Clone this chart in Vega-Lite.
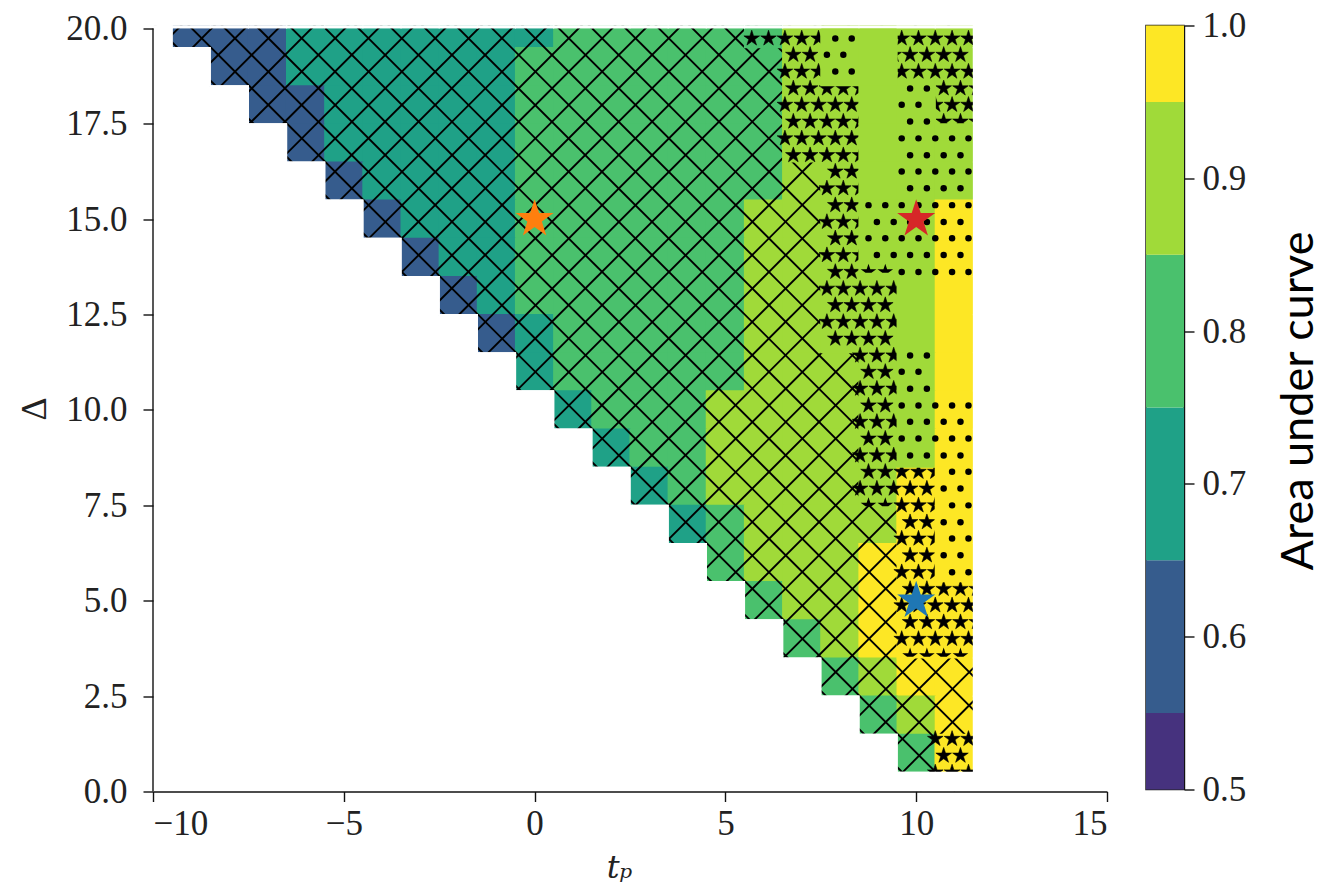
{"$schema":"https://vega.github.io/schema/vega-lite/v6.json","background":"white","padding":{"left":16,"top":7.5,"right":0,"bottom":14},"spacing":37,
"config":{"axis":{"grid":false,"domainColor":"#111","tickColor":"#111","domainWidth":1.4,"tickWidth":1.4,"tickSize":10,"labelFont":"Liberation Serif","labelFontSize":35,"labelColor":"#222","labelPadding":10},"view":{"stroke":null}},
"datasets":{
"cells":[
{"x":-9,"y":20,"a":0.6,"p":"x"},{"x":-8,"y":20,"a":0.6,"p":"x"},{"x":-7,"y":20,"a":0.6,"p":"x"},{"x":-6,"y":20,"a":0.7,"p":"x"},{"x":-5,"y":20,"a":0.7,"p":"x"},{"x":-4,"y":20,"a":0.7,"p":"x"},{"x":-3,"y":20,"a":0.7,"p":"x"},{"x":-2,"y":20,"a":0.7,"p":"x"},{"x":-1,"y":20,"a":0.7,"p":"x"},{"x":0,"y":20,"a":0.7,"p":"x"},{"x":1,"y":20,"a":0.8,"p":"x"},{"x":2,"y":20,"a":0.8,"p":"x"},{"x":3,"y":20,"a":0.8,"p":"x"},{"x":4,"y":20,"a":0.8,"p":"x"},{"x":5,"y":20,"a":0.8,"p":"x"},{"x":6,"y":20,"a":0.8,"p":"s"},{"x":7,"y":20,"a":0.9,"p":"s"},{"x":8,"y":20,"a":0.9,"p":"o"},{"x":9,"y":20,"a":0.9,"p":"n"},{"x":10,"y":20,"a":0.9,"p":"s"},{"x":11,"y":20,"a":0.9,"p":"s"},
{"x":-8,"y":19,"a":0.6,"p":"x"},{"x":-7,"y":19,"a":0.6,"p":"x"},{"x":-6,"y":19,"a":0.7,"p":"x"},{"x":-5,"y":19,"a":0.7,"p":"x"},{"x":-4,"y":19,"a":0.7,"p":"x"},{"x":-3,"y":19,"a":0.7,"p":"x"},{"x":-2,"y":19,"a":0.7,"p":"x"},{"x":-1,"y":19,"a":0.7,"p":"x"},{"x":0,"y":19,"a":0.8,"p":"x"},{"x":1,"y":19,"a":0.8,"p":"x"},{"x":2,"y":19,"a":0.8,"p":"x"},{"x":3,"y":19,"a":0.8,"p":"x"},{"x":4,"y":19,"a":0.8,"p":"x"},{"x":5,"y":19,"a":0.8,"p":"x"},{"x":6,"y":19,"a":0.8,"p":"x"},{"x":7,"y":19,"a":0.9,"p":"s"},{"x":8,"y":19,"a":0.9,"p":"o"},{"x":9,"y":19,"a":0.9,"p":"n"},{"x":10,"y":19,"a":0.9,"p":"s"},{"x":11,"y":19,"a":0.9,"p":"s"},
{"x":-7,"y":18,"a":0.6,"p":"x"},{"x":-6,"y":18,"a":0.6,"p":"x"},{"x":-5,"y":18,"a":0.7,"p":"x"},{"x":-4,"y":18,"a":0.7,"p":"x"},{"x":-3,"y":18,"a":0.7,"p":"x"},{"x":-2,"y":18,"a":0.7,"p":"x"},{"x":-1,"y":18,"a":0.7,"p":"x"},{"x":0,"y":18,"a":0.8,"p":"x"},{"x":1,"y":18,"a":0.8,"p":"x"},{"x":2,"y":18,"a":0.8,"p":"x"},{"x":3,"y":18,"a":0.8,"p":"x"},{"x":4,"y":18,"a":0.8,"p":"x"},{"x":5,"y":18,"a":0.8,"p":"x"},{"x":6,"y":18,"a":0.8,"p":"x"},{"x":7,"y":18,"a":0.9,"p":"s"},{"x":8,"y":18,"a":0.9,"p":"s"},{"x":9,"y":18,"a":0.9,"p":"n"},{"x":10,"y":18,"a":0.9,"p":"o"},{"x":11,"y":18,"a":0.9,"p":"s"},
{"x":-6,"y":17,"a":0.6,"p":"x"},{"x":-5,"y":17,"a":0.7,"p":"x"},{"x":-4,"y":17,"a":0.7,"p":"x"},{"x":-3,"y":17,"a":0.7,"p":"x"},{"x":-2,"y":17,"a":0.7,"p":"x"},{"x":-1,"y":17,"a":0.7,"p":"x"},{"x":0,"y":17,"a":0.8,"p":"x"},{"x":1,"y":17,"a":0.8,"p":"x"},{"x":2,"y":17,"a":0.8,"p":"x"},{"x":3,"y":17,"a":0.8,"p":"x"},{"x":4,"y":17,"a":0.8,"p":"x"},{"x":5,"y":17,"a":0.8,"p":"x"},{"x":6,"y":17,"a":0.8,"p":"x"},{"x":7,"y":17,"a":0.9,"p":"s"},{"x":8,"y":17,"a":0.9,"p":"s"},{"x":9,"y":17,"a":0.9,"p":"n"},{"x":10,"y":17,"a":0.9,"p":"o"},{"x":11,"y":17,"a":0.9,"p":"o"},
{"x":-5,"y":16,"a":0.6,"p":"x"},{"x":-4,"y":16,"a":0.7,"p":"x"},{"x":-3,"y":16,"a":0.7,"p":"x"},{"x":-2,"y":16,"a":0.7,"p":"x"},{"x":-1,"y":16,"a":0.7,"p":"x"},{"x":0,"y":16,"a":0.8,"p":"x"},{"x":1,"y":16,"a":0.8,"p":"x"},{"x":2,"y":16,"a":0.8,"p":"x"},{"x":3,"y":16,"a":0.8,"p":"x"},{"x":4,"y":16,"a":0.8,"p":"x"},{"x":5,"y":16,"a":0.8,"p":"x"},{"x":6,"y":16,"a":0.8,"p":"x"},{"x":7,"y":16,"a":0.9,"p":"x"},{"x":8,"y":16,"a":0.9,"p":"s"},{"x":9,"y":16,"a":0.9,"p":"n"},{"x":10,"y":16,"a":0.9,"p":"o"},{"x":11,"y":16,"a":0.9,"p":"o"},
{"x":-4,"y":15,"a":0.6,"p":"x"},{"x":-3,"y":15,"a":0.7,"p":"x"},{"x":-2,"y":15,"a":0.7,"p":"x"},{"x":-1,"y":15,"a":0.7,"p":"x"},{"x":0,"y":15,"a":0.8,"p":"x"},{"x":1,"y":15,"a":0.8,"p":"x"},{"x":2,"y":15,"a":0.8,"p":"x"},{"x":3,"y":15,"a":0.8,"p":"x"},{"x":4,"y":15,"a":0.8,"p":"x"},{"x":5,"y":15,"a":0.8,"p":"x"},{"x":6,"y":15,"a":0.9,"p":"x"},{"x":7,"y":15,"a":0.9,"p":"x"},{"x":8,"y":15,"a":0.9,"p":"s"},{"x":9,"y":15,"a":0.9,"p":"o"},{"x":10,"y":15,"a":0.9,"p":"o"},{"x":11,"y":15,"a":1.0,"p":"o"},
{"x":-3,"y":14,"a":0.6,"p":"x"},{"x":-2,"y":14,"a":0.7,"p":"x"},{"x":-1,"y":14,"a":0.7,"p":"x"},{"x":0,"y":14,"a":0.8,"p":"x"},{"x":1,"y":14,"a":0.8,"p":"x"},{"x":2,"y":14,"a":0.8,"p":"x"},{"x":3,"y":14,"a":0.8,"p":"x"},{"x":4,"y":14,"a":0.8,"p":"x"},{"x":5,"y":14,"a":0.8,"p":"x"},{"x":6,"y":14,"a":0.9,"p":"x"},{"x":7,"y":14,"a":0.9,"p":"x"},{"x":8,"y":14,"a":0.9,"p":"s"},{"x":9,"y":14,"a":0.9,"p":"o"},{"x":10,"y":14,"a":0.9,"p":"o"},{"x":11,"y":14,"a":1.0,"p":"o"},
{"x":-2,"y":13,"a":0.6,"p":"x"},{"x":-1,"y":13,"a":0.7,"p":"x"},{"x":0,"y":13,"a":0.8,"p":"x"},{"x":1,"y":13,"a":0.8,"p":"x"},{"x":2,"y":13,"a":0.8,"p":"x"},{"x":3,"y":13,"a":0.8,"p":"x"},{"x":4,"y":13,"a":0.8,"p":"x"},{"x":5,"y":13,"a":0.8,"p":"x"},{"x":6,"y":13,"a":0.9,"p":"x"},{"x":7,"y":13,"a":0.9,"p":"x"},{"x":8,"y":13,"a":0.9,"p":"s"},{"x":9,"y":13,"a":0.9,"p":"s"},{"x":10,"y":13,"a":0.9,"p":"n"},{"x":11,"y":13,"a":1.0,"p":"n"},
{"x":-1,"y":12,"a":0.6,"p":"x"},{"x":0,"y":12,"a":0.7,"p":"x"},{"x":1,"y":12,"a":0.8,"p":"x"},{"x":2,"y":12,"a":0.8,"p":"x"},{"x":3,"y":12,"a":0.8,"p":"x"},{"x":4,"y":12,"a":0.8,"p":"x"},{"x":5,"y":12,"a":0.8,"p":"x"},{"x":6,"y":12,"a":0.9,"p":"x"},{"x":7,"y":12,"a":0.9,"p":"x"},{"x":8,"y":12,"a":0.9,"p":"s"},{"x":9,"y":12,"a":0.9,"p":"s"},{"x":10,"y":12,"a":0.9,"p":"n"},{"x":11,"y":12,"a":1.0,"p":"n"},
{"x":0,"y":11,"a":0.7,"p":"x"},{"x":1,"y":11,"a":0.8,"p":"x"},{"x":2,"y":11,"a":0.8,"p":"x"},{"x":3,"y":11,"a":0.8,"p":"x"},{"x":4,"y":11,"a":0.8,"p":"x"},{"x":5,"y":11,"a":0.8,"p":"x"},{"x":6,"y":11,"a":0.9,"p":"x"},{"x":7,"y":11,"a":0.9,"p":"x"},{"x":8,"y":11,"a":0.9,"p":"x"},{"x":9,"y":11,"a":0.9,"p":"s"},{"x":10,"y":11,"a":0.9,"p":"o"},{"x":11,"y":11,"a":1.0,"p":"n"},
{"x":1,"y":10,"a":0.7,"p":"x"},{"x":2,"y":10,"a":0.8,"p":"x"},{"x":3,"y":10,"a":0.8,"p":"x"},{"x":4,"y":10,"a":0.8,"p":"x"},{"x":5,"y":10,"a":0.9,"p":"x"},{"x":6,"y":10,"a":0.9,"p":"x"},{"x":7,"y":10,"a":0.9,"p":"x"},{"x":8,"y":10,"a":0.9,"p":"x"},{"x":9,"y":10,"a":0.9,"p":"s"},{"x":10,"y":10,"a":0.9,"p":"o"},{"x":11,"y":10,"a":1.0,"p":"o"},
{"x":2,"y":9,"a":0.7,"p":"x"},{"x":3,"y":9,"a":0.8,"p":"x"},{"x":4,"y":9,"a":0.8,"p":"x"},{"x":5,"y":9,"a":0.9,"p":"x"},{"x":6,"y":9,"a":0.9,"p":"x"},{"x":7,"y":9,"a":0.9,"p":"x"},{"x":8,"y":9,"a":0.9,"p":"x"},{"x":9,"y":9,"a":0.9,"p":"s"},{"x":10,"y":9,"a":0.9,"p":"o"},{"x":11,"y":9,"a":1.0,"p":"o"},
{"x":3,"y":8,"a":0.7,"p":"x"},{"x":4,"y":8,"a":0.8,"p":"x"},{"x":5,"y":8,"a":0.9,"p":"x"},{"x":6,"y":8,"a":0.9,"p":"x"},{"x":7,"y":8,"a":0.9,"p":"x"},{"x":8,"y":8,"a":0.9,"p":"x"},{"x":9,"y":8,"a":0.9,"p":"s"},{"x":10,"y":8,"a":1.0,"p":"s"},{"x":11,"y":8,"a":1.0,"p":"o"},
{"x":4,"y":7,"a":0.7,"p":"x"},{"x":5,"y":7,"a":0.8,"p":"x"},{"x":6,"y":7,"a":0.9,"p":"x"},{"x":7,"y":7,"a":0.9,"p":"x"},{"x":8,"y":7,"a":0.9,"p":"x"},{"x":9,"y":7,"a":0.9,"p":"x"},{"x":10,"y":7,"a":1.0,"p":"s"},{"x":11,"y":7,"a":1.0,"p":"o"},
{"x":5,"y":6,"a":0.8,"p":"x"},{"x":6,"y":6,"a":0.9,"p":"x"},{"x":7,"y":6,"a":0.9,"p":"x"},{"x":8,"y":6,"a":0.9,"p":"x"},{"x":9,"y":6,"a":1.0,"p":"x"},{"x":10,"y":6,"a":1.0,"p":"s"},{"x":11,"y":6,"a":1.0,"p":"o"},
{"x":6,"y":5,"a":0.8,"p":"x"},{"x":7,"y":5,"a":0.9,"p":"x"},{"x":8,"y":5,"a":0.9,"p":"x"},{"x":9,"y":5,"a":1.0,"p":"x"},{"x":10,"y":5,"a":1.0,"p":"s"},{"x":11,"y":5,"a":1.0,"p":"s"},
{"x":7,"y":4,"a":0.8,"p":"x"},{"x":8,"y":4,"a":0.9,"p":"x"},{"x":9,"y":4,"a":1.0,"p":"x"},{"x":10,"y":4,"a":1.0,"p":"s"},{"x":11,"y":4,"a":1.0,"p":"s"},
{"x":8,"y":3,"a":0.8,"p":"x"},{"x":9,"y":3,"a":0.9,"p":"x"},{"x":10,"y":3,"a":1.0,"p":"x"},{"x":11,"y":3,"a":1.0,"p":"x"},
{"x":9,"y":2,"a":0.8,"p":"x"},{"x":10,"y":2,"a":0.9,"p":"x"},{"x":11,"y":2,"a":1.0,"p":"x"},
{"x":10,"y":1,"a":0.8,"p":"x"},{"x":11,"y":1,"a":1.0,"p":"s"}],
"empty":[{"x":-10,"y":20},{"x":-9,"y":19},{"x":-8,"y":18},{"x":-7,"y":17},{"x":-6,"y":16},{"x":-5,"y":15},{"x":-4,"y":14},{"x":-3,"y":13},{"x":-2,"y":12},{"x":-1,"y":11},{"x":0,"y":10},{"x":1,"y":9},{"x":2,"y":8},{"x":3,"y":7},{"x":4,"y":6},{"x":5,"y":5},{"x":6,"y":4},{"x":7,"y":3},{"x":8,"y":2},{"x":9,"y":1},{"x":10,"y":0},{"x":11,"y":0},{"x":12,"y":0},{"x":9,"y":0},
{"x":12,"y":1},{"x":12,"y":2},{"x":12,"y":3},{"x":12,"y":4},{"x":12,"y":5},{"x":12,"y":6},{"x":12,"y":7},{"x":12,"y":8},{"x":12,"y":9},{"x":12,"y":10},{"x":12,"y":11},{"x":12,"y":12},{"x":12,"y":13},{"x":12,"y":14},{"x":12,"y":15},{"x":12,"y":16},{"x":12,"y":17},{"x":12,"y":18},{"x":12,"y":19},{"x":12,"y":20},
{"x":-10,"y":20.52},{"x":-9,"y":20.52},{"x":-8,"y":20.52},{"x":-7,"y":20.52},{"x":-6,"y":20.52},{"x":-5,"y":20.52},{"x":-4,"y":20.52},{"x":-3,"y":20.52},{"x":-2,"y":20.52},{"x":-1,"y":20.52},{"x":0,"y":20.52},{"x":1,"y":20.52},{"x":2,"y":20.52},{"x":3,"y":20.52},{"x":4,"y":20.52},{"x":5,"y":20.52},{"x":6,"y":20.52},{"x":7,"y":20.52},{"x":8,"y":20.52},{"x":9,"y":20.52},{"x":10,"y":20.52},{"x":11,"y":20.52},{"x":12,"y":20.52}],
"hatch":[
{"x":-9.67,"y":19.67,"x2":-9.14,"y2":20.2},{"x":-9.23,"y":19.23,"x2":-8.27,"y2":20.2},{"x":-8.8,"y":18.8,"x2":-7.39,"y2":20.2},{"x":-8.36,"y":18.36,"x2":-6.52,"y2":20.2},{"x":-7.92,"y":17.92,"x2":-5.65,"y2":20.2},{"x":-7.49,"y":17.49,"x2":-4.77,"y2":20.2},{"x":-7.05,"y":17.05,"x2":-3.9,"y2":20.2},{"x":-6.61,"y":16.61,"x2":-3.02,"y2":20.2},{"x":-6.17,"y":16.17,"x2":-2.15,"y2":20.2},{"x":-5.74,"y":15.74,"x2":-1.27,"y2":20.2},{"x":-5.3,"y":15.3,"x2":-0.4,"y2":20.2},{"x":-4.86,"y":14.86,"x2":0.48,"y2":20.2},{"x":-4.42,"y":14.42,"x2":1.35,"y2":20.2},{"x":-3.99,"y":13.99,"x2":2.23,"y2":20.2},{"x":-3.55,"y":13.55,"x2":3.1,"y2":20.2},{"x":-3.11,"y":13.11,"x2":3.97,"y2":20.2},{"x":-2.68,"y":12.68,"x2":4.85,"y2":20.2},{"x":-2.24,"y":12.24,"x2":5.72,"y2":20.2},{"x":-1.8,"y":11.8,"x2":6.6,"y2":20.2},{"x":-1.36,"y":11.36,"x2":7.47,"y2":20.2},{"x":-0.93,"y":10.93,"x2":8.35,"y2":20.2},{"x":-0.49,"y":10.49,"x2":9.22,"y2":20.2},{"x":-0.05,"y":10.05,"x2":10.1,"y2":20.2},{"x":0.39,"y":9.61,"x2":10.97,"y2":20.2},{"x":0.82,"y":9.18,"x2":11.6,"y2":19.96},{"x":1.26,"y":8.74,"x2":11.6,"y2":19.08},{"x":1.7,"y":8.3,"x2":11.6,"y2":18.21},{"x":2.13,"y":7.87,"x2":11.6,"y2":17.33},{"x":2.57,"y":7.43,"x2":11.6,"y2":16.46},{"x":3.01,"y":6.99,"x2":11.6,"y2":15.58},{"x":3.45,"y":6.55,"x2":11.6,"y2":14.71},{"x":3.88,"y":6.12,"x2":11.6,"y2":13.83},{"x":4.32,"y":5.68,"x2":11.6,"y2":12.96},{"x":4.76,"y":5.24,"x2":11.6,"y2":12.08},{"x":5.2,"y":4.81,"x2":11.6,"y2":11.21},{"x":5.63,"y":4.37,"x2":11.6,"y2":10.34},{"x":6.07,"y":3.93,"x2":11.6,"y2":9.46},{"x":6.51,"y":3.49,"x2":11.6,"y2":8.59},{"x":6.94,"y":3.06,"x2":11.6,"y2":7.71},{"x":7.38,"y":2.62,"x2":11.6,"y2":6.84},{"x":7.82,"y":2.18,"x2":11.6,"y2":5.96},{"x":8.26,"y":1.74,"x2":11.6,"y2":5.09},{"x":8.69,"y":1.31,"x2":11.6,"y2":4.21},{"x":9.13,"y":0.87,"x2":11.6,"y2":3.34},{"x":9.57,"y":0.43,"x2":11.6,"y2":2.47},{"x":10,"y":0,"x2":11.6,"y2":1.59},
{"x":-10.06,"y":20.2,"x2":10.14,"y2":0},{"x":-9.18,"y":20.2,"x2":11.02,"y2":0},{"x":-8.31,"y":20.2,"x2":11.6,"y2":0.29},{"x":-7.43,"y":20.2,"x2":11.6,"y2":1.17},{"x":-6.56,"y":20.2,"x2":11.6,"y2":2.04},{"x":-5.68,"y":20.2,"x2":11.6,"y2":2.92},{"x":-4.81,"y":20.2,"x2":11.6,"y2":3.79},{"x":-3.94,"y":20.2,"x2":11.6,"y2":4.67},{"x":-3.06,"y":20.2,"x2":11.6,"y2":5.54},{"x":-2.19,"y":20.2,"x2":11.6,"y2":6.41},{"x":-1.31,"y":20.2,"x2":11.6,"y2":7.29},{"x":-0.44,"y":20.2,"x2":11.6,"y2":8.16},{"x":0.44,"y":20.2,"x2":11.6,"y2":9.04},{"x":1.31,"y":20.2,"x2":11.6,"y2":9.91},{"x":2.19,"y":20.2,"x2":11.6,"y2":10.79},{"x":3.06,"y":20.2,"x2":11.6,"y2":11.66},{"x":3.94,"y":20.2,"x2":11.6,"y2":12.54},{"x":4.81,"y":20.2,"x2":11.6,"y2":13.41},{"x":5.69,"y":20.2,"x2":11.6,"y2":14.29},{"x":6.56,"y":20.2,"x2":11.6,"y2":15.16},{"x":7.43,"y":20.2,"x2":11.6,"y2":16.03}],
"stars":[
{"x":5.69,"y":19.74},{"x":6.13,"y":19.74},{"x":6.56,"y":19.74},{"x":7,"y":19.74},{"x":7.44,"y":19.74},{"x":9.62,"y":19.74},{"x":10.06,"y":19.74},{"x":10.5,"y":19.74},{"x":10.94,"y":19.74},{"x":11.37,"y":19.74},
{"x":6.78,"y":19.31},{"x":7.22,"y":19.31},{"x":9.41,"y":19.31},{"x":9.84,"y":19.31},{"x":10.28,"y":19.31},{"x":10.72,"y":19.31},{"x":11.16,"y":19.31},
{"x":6.56,"y":18.87},{"x":7,"y":18.87},{"x":7.44,"y":18.87},{"x":9.62,"y":18.87},{"x":10.06,"y":18.87},{"x":10.5,"y":18.87},{"x":10.94,"y":18.87},{"x":11.37,"y":18.87},
{"x":6.78,"y":18.43},{"x":7.22,"y":18.43},{"x":7.66,"y":18.43},{"x":8.09,"y":18.43},{"x":8.53,"y":18.43},{"x":10.72,"y":18.43},{"x":11.16,"y":18.43},{"x":11.59,"y":18.43},
{"x":6.56,"y":18},{"x":7,"y":18},{"x":7.44,"y":18},{"x":7.88,"y":18},{"x":8.31,"y":18},{"x":10.5,"y":18},{"x":10.94,"y":18},{"x":11.37,"y":18},
{"x":6.78,"y":17.56},{"x":7.22,"y":17.56},{"x":7.66,"y":17.56},{"x":8.09,"y":17.56},{"x":8.53,"y":17.56},{"x":10.72,"y":17.56},{"x":11.16,"y":17.56},{"x":11.59,"y":17.56},
{"x":6.56,"y":17.12},{"x":7,"y":17.12},{"x":7.44,"y":17.12},{"x":7.88,"y":17.12},{"x":8.31,"y":17.12},
{"x":6.78,"y":16.68},{"x":7.22,"y":16.68},{"x":7.66,"y":16.68},{"x":8.09,"y":16.68},{"x":8.53,"y":16.68},
{"x":7.88,"y":16.25},{"x":8.31,"y":16.25},{"x":7.66,"y":15.81},{"x":8.09,"y":15.81},{"x":8.53,"y":15.81},
{"x":7.88,"y":15.37},{"x":8.31,"y":15.37},{"x":7.66,"y":14.93},{"x":8.09,"y":14.93},{"x":8.53,"y":14.93},
{"x":7.88,"y":14.5},{"x":8.31,"y":14.5},{"x":7.66,"y":14.06},{"x":8.09,"y":14.06},{"x":8.53,"y":14.06},
{"x":7.88,"y":13.62},{"x":8.31,"y":13.62},
{"x":7.66,"y":13.18},{"x":8.09,"y":13.18},{"x":8.53,"y":13.18},{"x":8.97,"y":13.18},{"x":9.41,"y":13.18},
{"x":7.88,"y":12.75},{"x":8.31,"y":12.75},{"x":8.75,"y":12.75},{"x":9.19,"y":12.75},
{"x":7.66,"y":12.31},{"x":8.09,"y":12.31},{"x":8.53,"y":12.31},{"x":8.97,"y":12.31},{"x":9.41,"y":12.31},
{"x":7.88,"y":11.87},{"x":8.31,"y":11.87},{"x":8.75,"y":11.87},{"x":9.19,"y":11.87},
{"x":8.53,"y":11.43},{"x":8.97,"y":11.43},{"x":9.41,"y":11.43},{"x":8.75,"y":11},{"x":9.19,"y":11},
{"x":8.53,"y":10.56},{"x":8.97,"y":10.56},{"x":9.41,"y":10.56},{"x":8.75,"y":10.12},{"x":9.19,"y":10.12},
{"x":8.53,"y":9.69},{"x":8.97,"y":9.69},{"x":9.41,"y":9.69},{"x":8.75,"y":9.25},{"x":9.19,"y":9.25},
{"x":8.53,"y":8.81},{"x":8.97,"y":8.81},{"x":9.41,"y":8.81},
{"x":8.75,"y":8.38},{"x":9.19,"y":8.38},{"x":9.62,"y":8.38},{"x":10.06,"y":8.38},{"x":10.5,"y":8.38},
{"x":8.53,"y":7.94},{"x":8.97,"y":7.94},{"x":9.41,"y":7.94},{"x":9.84,"y":7.94},{"x":10.28,"y":7.94},
{"x":9.62,"y":7.5},{"x":10.06,"y":7.5},{"x":10.5,"y":7.5},{"x":9.84,"y":7.06},{"x":10.28,"y":7.06},
{"x":9.62,"y":6.63},{"x":10.06,"y":6.63},{"x":10.5,"y":6.63},{"x":9.84,"y":6.19},{"x":10.28,"y":6.19},
{"x":9.62,"y":5.75},{"x":10.06,"y":5.75},{"x":10.5,"y":5.75},
{"x":9.84,"y":5.31},{"x":10.28,"y":5.31},{"x":10.72,"y":5.31},{"x":11.16,"y":5.31},{"x":11.59,"y":5.31},
{"x":9.62,"y":4.88},{"x":10.06,"y":4.88},{"x":10.5,"y":4.88},{"x":10.94,"y":4.88},{"x":11.37,"y":4.88},
{"x":9.84,"y":4.44},{"x":10.28,"y":4.44},{"x":10.72,"y":4.44},{"x":11.16,"y":4.44},{"x":11.59,"y":4.44},
{"x":9.62,"y":4},{"x":10.06,"y":4},{"x":10.5,"y":4},{"x":10.94,"y":4},{"x":11.37,"y":4},
{"x":10.5,"y":1.38},{"x":10.94,"y":1.38},{"x":11.37,"y":1.38},{"x":10.72,"y":0.94},{"x":11.16,"y":0.94},{"x":10.5,"y":0.5},{"x":10.94,"y":0.5},{"x":11.37,"y":0.5}],
"half":[{"x":9.84,"y":3.56},{"x":10.28,"y":3.56},{"x":10.72,"y":3.56},{"x":11.16,"y":3.56},{"x":8.75,"y":7.5},{"x":9.19,"y":7.5},{"x":8.75,"y":13.62},{"x":9.19,"y":13.62}],
"dots":[
{"x":7.88,"y":19.74},{"x":8.31,"y":19.74},{"x":7.66,"y":19.31},{"x":8.09,"y":19.31},{"x":7.88,"y":18.87},{"x":8.31,"y":18.87},
{"x":9.84,"y":18.43},{"x":10.28,"y":18.43},{"x":9.62,"y":18},{"x":10.06,"y":18},{"x":9.84,"y":17.56},{"x":10.28,"y":17.56},
{"x":9.62,"y":17.12},{"x":10.06,"y":17.12},{"x":10.5,"y":17.12},{"x":10.94,"y":17.12},{"x":11.37,"y":17.12},
{"x":9.84,"y":16.68},{"x":10.28,"y":16.68},{"x":10.72,"y":16.68},{"x":11.16,"y":16.68},
{"x":9.62,"y":16.25},{"x":10.06,"y":16.25},{"x":10.5,"y":16.25},{"x":10.94,"y":16.25},{"x":11.37,"y":16.25},
{"x":9.84,"y":15.81},{"x":10.28,"y":15.81},{"x":10.72,"y":15.81},{"x":11.16,"y":15.81},
{"x":8.75,"y":15.37},{"x":9.19,"y":15.37},{"x":9.62,"y":15.37},{"x":10.06,"y":15.37},{"x":10.5,"y":15.37},{"x":10.94,"y":15.37},{"x":11.37,"y":15.37},
{"x":8.97,"y":14.93},{"x":9.41,"y":14.93},{"x":9.84,"y":14.93},{"x":10.28,"y":14.93},{"x":10.72,"y":14.93},{"x":11.16,"y":14.93},
{"x":8.75,"y":14.5},{"x":9.19,"y":14.5},{"x":9.62,"y":14.5},{"x":10.06,"y":14.5},{"x":10.5,"y":14.5},{"x":10.94,"y":14.5},{"x":11.37,"y":14.5},
{"x":8.97,"y":14.06},{"x":9.41,"y":14.06},{"x":9.84,"y":14.06},{"x":10.28,"y":14.06},{"x":10.72,"y":14.06},{"x":11.16,"y":14.06},
{"x":9.62,"y":13.62},{"x":10.06,"y":13.62},{"x":10.5,"y":13.62},{"x":10.94,"y":13.62},{"x":11.37,"y":13.62},
{"x":9.84,"y":11.43},{"x":10.28,"y":11.43},{"x":9.62,"y":11},{"x":10.06,"y":11},{"x":9.84,"y":10.56},{"x":10.28,"y":10.56},
{"x":9.62,"y":10.12},{"x":10.06,"y":10.12},{"x":10.5,"y":10.12},{"x":10.94,"y":10.12},{"x":11.37,"y":10.12},
{"x":9.84,"y":9.69},{"x":10.28,"y":9.69},{"x":10.72,"y":9.69},{"x":11.16,"y":9.69},
{"x":9.62,"y":9.25},{"x":10.06,"y":9.25},{"x":10.5,"y":9.25},{"x":10.94,"y":9.25},{"x":11.37,"y":9.25},
{"x":9.84,"y":8.81},{"x":10.28,"y":8.81},{"x":10.72,"y":8.81},{"x":11.16,"y":8.81},
{"x":10.94,"y":8.38},{"x":11.37,"y":8.38},{"x":10.72,"y":7.94},{"x":11.16,"y":7.94},{"x":10.94,"y":7.5},{"x":11.37,"y":7.5},
{"x":10.72,"y":7.06},{"x":11.16,"y":7.06},{"x":10.94,"y":6.63},{"x":11.37,"y":6.63},{"x":10.72,"y":6.19},{"x":11.16,"y":6.19},{"x":10.94,"y":5.75},{"x":11.37,"y":5.75}],
"marked":[{"x":0,"y":15,"k":"orange"},{"x":10,"y":15,"k":"red"},{"x":10,"y":5,"k":"blue"}],
"spine":[{"x":-10,"y":0,"y2":20}],
"bar":[{"lo":0.5,"hi":0.55,"a":0.52},{"lo":0.55,"hi":0.65,"a":0.6},{"lo":0.65,"hi":0.75,"a":0.7},{"lo":0.75,"hi":0.85,"a":0.8},{"lo":0.85,"hi":0.95,"a":0.9},{"lo":0.95,"hi":1,"a":1}]},
"hconcat":[
{"width":954,"height":766,
"encoding":{"x":{"field":"x","type":"quantitative","scale":{"domain":[-10,15],"nice":false,"zero":false},"axis":{"zindex":1,"values":[-10,-5,0,5,10,15],"format":"d","labelPadding":5,"title":"tₚ","titleFont":"DejaVu Serif","titleFontStyle":"italic","titleFontWeight":"normal","titleFontSize":32,"titleColor":"#222","titleX":466,"titlePadding":11}},
"y":{"field":"y","type":"quantitative","scale":{"domain":[0,20.0786],"nice":false,"zero":false},"axis":{"zindex":1,"domain":false,"values":[0,2.5,5,7.5,10,12.5,15,17.5,20],"format":".1f","labelPadding":16,"title":"Δ","titleFont":"Liberation Serif","titleFontWeight":"normal","titleFontSize":36,"titleColor":"#222","titlePadding":12}}},
"layer":[
{"data":{"name":"cells"},"mark":{"type":"square","size":1544,"opacity":1,"clip":true},"encoding":{"color":{"field":"a","type":"quantitative","legend":null,"scale":{"type":"threshold","domain":[0.55,0.65,0.75,0.85,0.95],"range":["#46327e","#365c8d","#1fa187","#4ac16d","#a0da39","#fde725"]}}}},
{"data":{"name":"hatch"},"mark":{"type":"rule","color":"black","strokeWidth":1.9,"clip":true},"encoding":{"x2":{"field":"x2"},"y2":{"field":"y2"}}},
{"data":{"name":"cells"},"transform":[{"filter":"datum.p!='x'"}],"mark":{"type":"square","size":1544,"opacity":1,"clip":true},"encoding":{"color":{"field":"a","type":"quantitative","legend":null,"scale":{"type":"threshold","domain":[0.55,0.65,0.75,0.85,0.95],"range":["#46327e","#365c8d","#1fa187","#4ac16d","#a0da39","#fde725"]}}}},
{"data":{"name":"empty"},"mark":{"type":"square","size":1544,"opacity":1,"clip":true,"color":"white"}},
{"data":{"name":"stars"},"mark":{"type":"point","filled":true,"opacity":1,"clip":true,"color":"black","stroke":"black","strokeWidth":0.6,"size":270,"shape":"M0,-1L.225,-.309L.951,-.309L.363,.118L.588,.809L0,.382L-.588,.809L-.363,.118L-.951,-.309L-.225,-.309Z"}},
{"data":{"name":"cells"},"transform":[{"filter":"datum.p=='o'||datum.p=='n'"}],"mark":{"type":"square","size":1544,"opacity":1,"clip":true},"encoding":{"color":{"field":"a","type":"quantitative","legend":null,"scale":{"type":"threshold","domain":[0.55,0.65,0.75,0.85,0.95],"range":["#46327e","#365c8d","#1fa187","#4ac16d","#a0da39","#fde725"]}}}},
{"data":{"name":"empty"},"mark":{"type":"square","size":1544,"opacity":1,"clip":true,"color":"white"}},
{"data":{"name":"dots"},"mark":{"type":"circle","opacity":1,"clip":true,"color":"black","size":42}},
{"data":{"name":"half"},"mark":{"type":"point","filled":true,"opacity":1,"clip":true,"color":"black","size":270,"shape":"M0,-1L.225,-.309L.951,-.309L.363,.118L.2,.118L-.2,.118L-.363,.118L-.951,-.309L-.225,-.309Z"}},
{"data":{"name":"spine"},"mark":{"type":"rule","color":"#111","strokeWidth":1.4},"encoding":{"y2":{"field":"y2"}}},
{"data":{"name":"marked"},"mark":{"type":"point","filled":true,"opacity":1,"size":1600,"shape":"M0,-1L.225,-.309L.951,-.309L.363,.118L.588,.809L0,.382L-.588,.809L-.363,.118L-.951,-.309L-.225,-.309Z"},"encoding":{"color":{"field":"k","type":"nominal","legend":null,"scale":{"domain":["orange","red","blue"],"range":["#ff7f0e","#d62728","#1f77b4"]}}}}
]},
{"width":38,"height":764,"view":{"stroke":"#222","strokeWidth":1.5},"data":{"name":"bar"},"mark":{"type":"rect"},
"encoding":{"y":{"field":"lo","type":"quantitative","scale":{"domain":[0.5,1],"nice":false,"zero":false},"axis":{"orient":"right","values":[0.5,0.6,0.7,0.8,0.9,1],"format":".1f","labelPadding":8,"title":"Area under curve","titleFont":"Lato","titleFontWeight":"normal","titleFontSize":45,"titleColor":"black","titleAngle":-90,"titleX":114,"titleY":375,"titleBaseline":"middle"}},"y2":{"field":"hi"},
"color":{"field":"a","type":"quantitative","legend":null,"scale":{"type":"threshold","domain":[0.55,0.65,0.75,0.85,0.95],"range":["#46327e","#365c8d","#1fa187","#4ac16d","#a0da39","#fde725"]}}}}
]}
